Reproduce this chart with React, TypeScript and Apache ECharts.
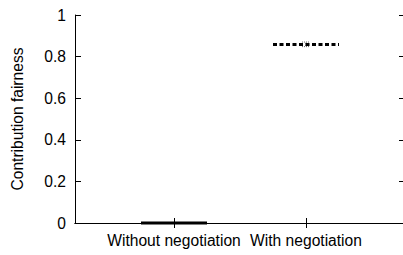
import React, { useEffect, useRef } from "react";
import * as echarts from "echarts";

const categories = ["Without negotiation", "With negotiation"];
const positions = [1, 2];
// [min, q1, median, q3, max]
const boxStats = [
  [0, 0, 0, 0, 0],
  [0.848, 0.855, 0.858, 0.862, 0.87],
];
const yTicks = [0, 0.2, 0.4, 0.6, 0.8, 1];

const FONT = "'Liberation Sans', Arial, Helvetica, sans-serif";
const FS = 15.6;

export default function App() {
  const ref = useRef<HTMLDivElement>(null);
  useEffect(() => {
    document.body.style.margin = "0";
    document.body.style.overflow = "hidden";
    const chart = echarts.init(ref.current!, null, { renderer: "svg" });
    const data = positions.map((p, i) => [p, ...boxStats[i]]);
    const option: any = {
      animation: false,
      backgroundColor: "#fff",
      textStyle: { fontFamily: FONT },
      grid: { left: 75, top: 15, width: 330, height: 208 },
      xAxis: [
        {
          type: "value",
          min: 0.25,
          max: 2.75,
          position: "bottom",
          axisLine: { show: true, lineStyle: { color: "#000", width: 1 } },
          axisTick: { show: true, inside: true, length: 5, customValues: positions, lineStyle: { color: "#000" } },
          axisLabel: {
            show: true,
            customValues: positions,
            margin: 9,
            color: "#000",
            fontSize: FS,
            fontFamily: FONT,
            formatter: (v: number) => categories[Math.round(v) - 1] ?? "",
          },
          splitLine: { show: false },
        },
        {
          type: "value",
          min: 0.25,
          max: 2.75,
          position: "top",
          axisLine: { show: true, lineStyle: { color: "#000", width: 1 } },
          axisTick: { show: true, inside: true, length: 5, customValues: positions, lineStyle: { color: "#000" } },
          axisLabel: { show: false },
          splitLine: { show: false },
        },
      ],
      yAxis: [
        {
          type: "value",
          min: 0,
          max: 1,
          interval: 0.2,
          position: "left",
          name: "Contribution fairness",
          nameLocation: "middle",
          nameGap: 50,
          nameTextStyle: { color: "#000", fontSize: FS, fontFamily: FONT },
          axisLine: { show: true, lineStyle: { color: "#000", width: 1 } },
          axisTick: { show: true, inside: true, length: 6, customValues: yTicks, lineStyle: { color: "#000" } },
          axisLabel: {
            margin: 9,
            color: "#000",
            fontSize: FS,
            fontFamily: FONT,
            customValues: yTicks,
            formatter: (v: number) => (v === 0 ? "0" : v === 1 ? "1" : v.toFixed(1)),
          },
          splitLine: { show: false },
        },
        {
          type: "value",
          min: 0,
          max: 1,
          interval: 0.2,
          position: "right",
          axisLine: { show: true, lineStyle: { color: "#000", width: 1 } },
          axisTick: { show: true, inside: true, length: 6, lineStyle: { color: "#000" } },
          axisLabel: { show: false },
          splitLine: { show: false },
        },
      ],
      series: [
        {
          type: "custom",
          xAxisIndex: 0,
          yAxisIndex: 0,
          data,
          encode: { x: 0, y: [1, 2, 3, 4, 5] },
          renderItem: (params: any, api: any) => {
            const x = api.value(0);
            const mn = api.value(1);
            const q1 = api.value(2);
            const md = api.value(3);
            const q3 = api.value(4);
            const mx = api.value(5);
            const half = api.size([0.5, 0])[0] / 2;
            const pMin = api.coord([x, mn]);
            const pQ1 = api.coord([x, q1]);
            const pMd = api.coord([x, md]);
            const pQ3 = api.coord([x, q3]);
            const pMax = api.coord([x, mx]);
            const cx = pMd[0];
            const children: any[] = [];
            if (params.dataIndex === 0) {
              children.push({
                type: "line",
                shape: { x1: cx - half, y1: pMd[1], x2: cx + half, y2: pMd[1] },
                style: { stroke: "#000", lineWidth: 3 },
              });
            } else {
              children.push({
                type: "line",
                shape: { x1: cx, y1: pQ3[1], x2: cx, y2: pMax[1] },
                style: { stroke: "#444", lineWidth: 1, lineDash: [1, 1] },
              });
              children.push({
                type: "line",
                shape: { x1: cx, y1: pQ1[1], x2: cx, y2: pMin[1] },
                style: { stroke: "#444", lineWidth: 1, lineDash: [1, 1] },
              });
              children.push({
                type: "line",
                shape: { x1: cx - 4, y1: pMax[1], x2: cx + 4, y2: pMax[1] },
                style: { stroke: "#666", lineWidth: 1, lineDash: [1, 1] },
              });
              children.push({
                type: "line",
                shape: { x1: cx - 4, y1: pMin[1], x2: cx + 4, y2: pMin[1] },
                style: { stroke: "#666", lineWidth: 1, lineDash: [1, 1] },
              });
              children.push({
                type: "line",
                shape: { x1: cx - half, y1: (pQ1[1] + pQ3[1]) / 2, x2: cx + half, y2: (pQ1[1] + pQ3[1]) / 2 },
                style: { stroke: "#000", lineWidth: Math.max(3, pQ1[1] - pQ3[1]), lineDash: [4, 2.5] },
              });
            }
            return { type: "group", children };
          },
        },
      ],
    };
    chart.setOption(option);
    return () => chart.dispose();
  }, []);
  return (
    <div style={{ width: 403, height: 255, overflow: "hidden", position: "relative" }}>
      <div ref={ref} style={{ width: 420, height: 255 }} />
    </div>
  );
}
